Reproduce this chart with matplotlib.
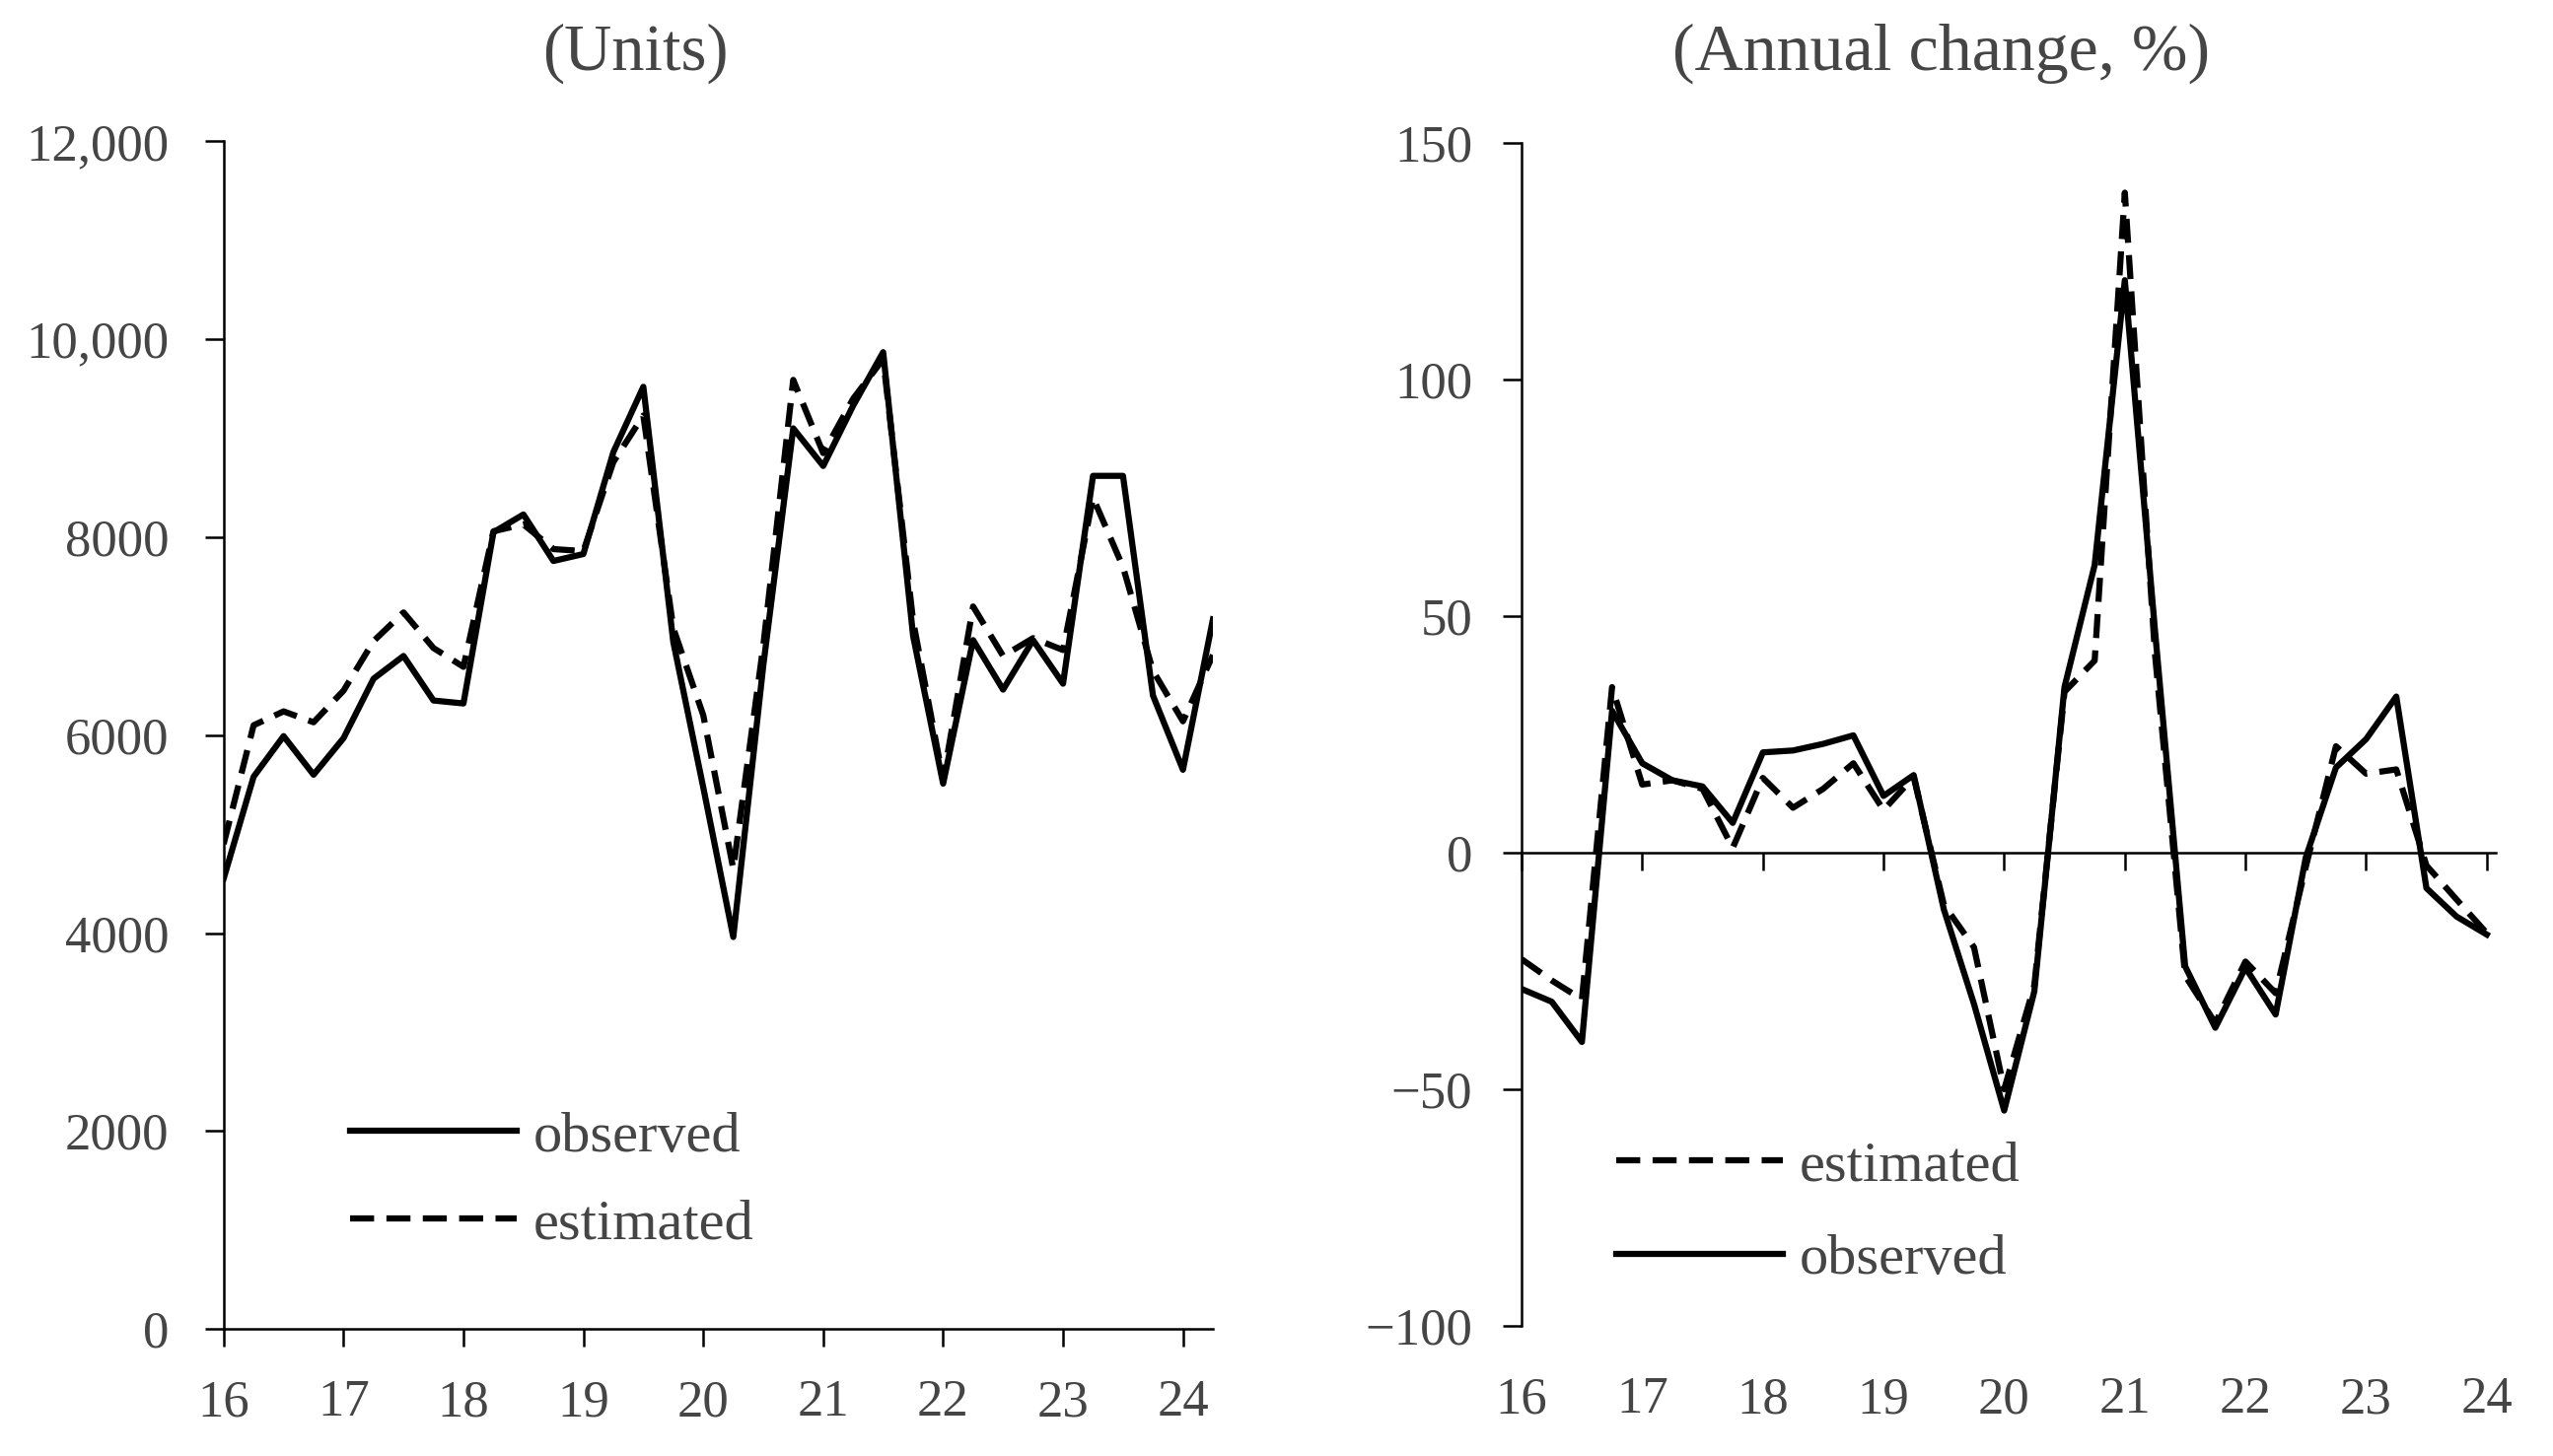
import numpy as np
import matplotlib
matplotlib.use("Agg")
import matplotlib.pyplot as plt

# quarterly series, 2016Q1 .. 2024Q2 (units)
units_observed = [4550, 5580, 5990, 5600, 5970, 6570, 6800, 6350, 6320, 8050,
                  8230, 7760, 7830, 8860, 9520, 6940, 5470, 3960, 6700, 9100,
                  8720, 9330, 9870, 7000, 5510, 6960, 6460, 6960, 6520, 8620,
                  8620, 6400, 5650, 7170]
units_estimated = [4900, 6100, 6240, 6130, 6450, 6950, 7240, 6880, 6690, 8060,
                   8130, 7880, 7860, 8760, 9230, 7080, 6200, 4650, 6900, 9590,
                   8850, 9400, 9800, 7150, 5550, 7300, 6800, 6980, 6860, 8400,
                   7700, 6650, 6140, 6810]

# annual change, %
change_observed = [-28.8, -31.5, -40, 30, 18.9, 15.3, 14, 6.3, 21.2, 21.6,
                   23, 24.8, 12, 16.4, -12, -32, -54.5, -29.3, 35, 60.8,
                   121, 47, -24, -37, -24.3, -34.2, -1, 18, 24, 33,
                   -7.5, -13.5, -17.3]
change_estimated = [-22.5, -27, -31, 35, 14.4, 15.3, 13.5, 1, 15.8, 9.5,
                    13.5, 18.9, 9, 16, -11, -20, -50, -28, 34, 40.6,
                    139.5, 42, -26, -36, -23, -29.7, -3, 22.5, 16.7, 17.6,
                    -2.7, -9.9, -17]

year_labels = ['16', '17', '18', '19', '20', '21', '22', '23', '24']
units_ticks = [0, 2000, 4000, 6000, 8000, 10000, 12000]
units_tick_labels = ['0', '2000', '4000', '6000', '8000', '10,000', '12,000']
change_ticks = [-100, -50, 0, 50, 100, 150]
change_tick_labels = ['\u2212100', '\u221250', '0', '50', '100', '150']

plt.rcParams['font.family'] = ['Liberation Serif', 'DejaVu Serif']
grey = '#454545'
lw = 4.5
dash = (0, (3.9, 2.0))
tick_fs = 38
leg_fs = 42

fig = plt.figure(figsize=(25.89, 14.77), dpi=100)

# ---------- left panel: units ----------
ax1 = fig.add_axes([0.0876, 0.0873, 0.3875, 0.8156])
x1 = np.arange(len(units_observed))
ax1.plot(x1, units_observed, color='black', lw=lw, label='observed')
ax1.plot(x1, units_estimated, color='black', lw=lw, linestyle=dash, label='estimated')
ax1.set_xlim(0, len(units_observed) - 1)
ax1.set_ylim(0, 12000)
ax1.set_xticks(np.arange(0, 33, 4), year_labels)
ax1.set_yticks(units_ticks, units_tick_labels)
for s in ['top', 'right']:
    ax1.spines[s].set_visible(False)
for s in ['left', 'bottom']:
    ax1.spines[s].set_linewidth(1.8)
ax1.tick_params(axis='y', length=14, width=1.8, pad=26, labelsize=tick_fs, labelcolor=grey)
ax1.tick_params(axis='x', length=13, width=1.8, pad=24, labelsize=tick_fs, labelcolor=grey)
ax1.legend(loc='center left', bbox_to_anchor=(0.1371, 0.1890), bbox_transform=fig.transFigure,
           frameon=False, fontsize=leg_fs, handlelength=2.9, handletextpad=0.28,
           labelspacing=0.62, borderpad=0, borderaxespad=0, labelcolor=grey)
fig.text(0.2487, 0.9634, '(Units)', ha='center', va='center', fontsize=48, color=grey)

# ---------- right panel: annual change ----------
ax2 = fig.add_axes([0.596, 0.0894, 0.3816, 0.8124])
x2 = np.arange(len(change_observed))
ax2.plot(x2, change_estimated, color='black', lw=lw, linestyle=dash, label='estimated')
ax2.plot(x2, change_observed, color='black', lw=lw, label='observed')
ax2.set_xlim(0, len(change_observed) - 1 + 0.3)
ax2.set_ylim(-100, 150)
ax2.set_yticks(change_ticks, change_tick_labels)
for s in ['top', 'right']:
    ax2.spines[s].set_visible(False)
ax2.spines['left'].set_linewidth(1.8)
ax2.spines['bottom'].set_position(('data', 0))
ax2.spines['bottom'].set_linewidth(1.8)
ax2.set_xticks(np.arange(0, 33, 4))
ax2.tick_params(axis='x', length=13, width=1.8, labelbottom=False)
ax2.tick_params(axis='y', length=14, width=1.8, pad=22, labelsize=tick_fs, labelcolor=grey)
sec = ax2.secondary_xaxis('bottom')
sec.set_xticks(np.arange(0, 33, 4), year_labels)
sec.spines['bottom'].set_visible(False)
sec.tick_params(length=0, pad=37, labelsize=tick_fs, labelcolor=grey)
ax2.legend(loc='center left', bbox_to_anchor=(0.633, 0.1670), bbox_transform=fig.transFigure,
           frameon=False, fontsize=leg_fs, handlelength=2.9, handletextpad=0.28,
           labelspacing=0.72, borderpad=0, borderaxespad=0, labelcolor=grey)
fig.text(0.7605, 0.9634, '(Annual change, %)', ha='center', va='center', fontsize=49, color=grey)

fig.savefig('out.png', dpi=100)
